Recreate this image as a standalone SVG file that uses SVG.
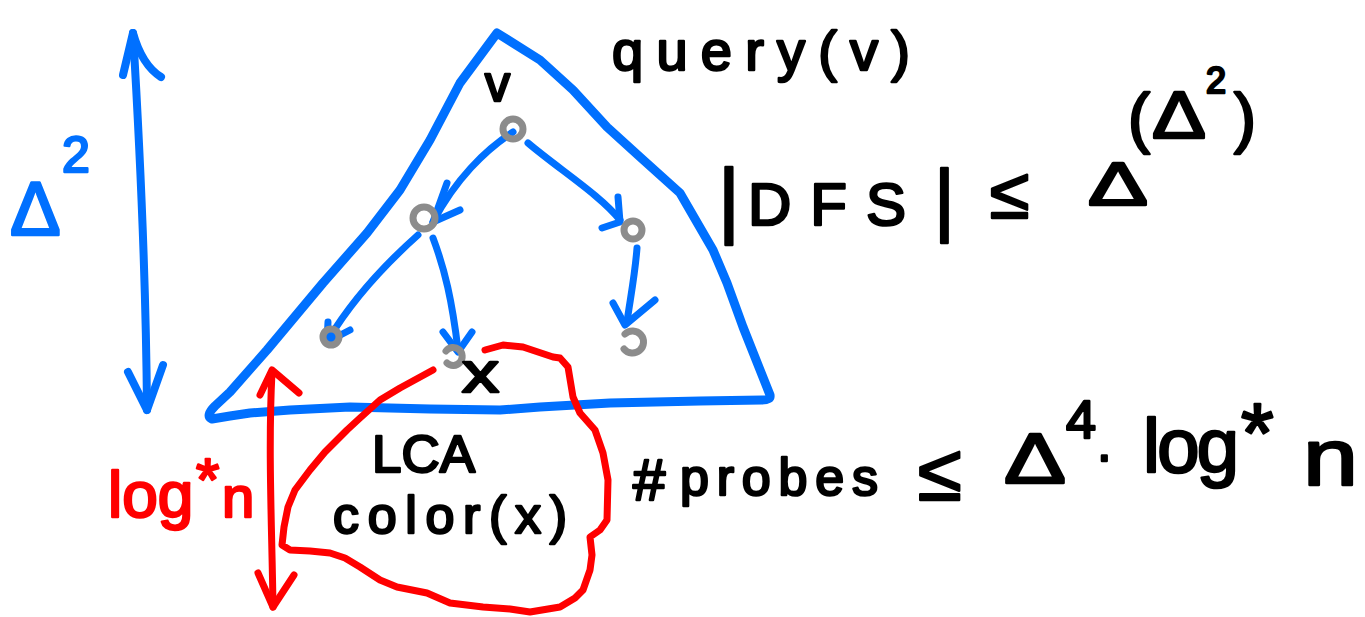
<svg xmlns="http://www.w3.org/2000/svg" width="1365" height="617" viewBox="0 0 1365 617">
<style>
.b{fill:none;stroke:#0070ff;stroke-width:8;stroke-linecap:round;stroke-linejoin:round}
.e{fill:none;stroke:#0070ff;stroke-width:7;stroke-linecap:round;stroke-linejoin:round}
.r{fill:none;stroke:#ff0000;stroke-width:7;stroke-linecap:round;stroke-linejoin:round}
.g{fill:none;stroke:#8c8c8c;stroke-width:7;stroke-linecap:round}
.t{font-family:"Liberation Sans",Arial,sans-serif;fill:#000;stroke:#000;stroke-width:2.5;stroke-linejoin:round}
.tr{font-family:"Liberation Sans",Arial,sans-serif;fill:#ff0000;stroke:#ff0000;stroke-width:2.5;stroke-linejoin:round}
.tb{font-family:"Liberation Sans",Arial,sans-serif;fill:#0070ff;stroke:#0070ff;stroke-width:2.5;stroke-linejoin:round}
</style>
<rect width="1365" height="617" fill="#fff"/>
<g id="triangle">
<path class="b" style="stroke-width:9" d="M497,33 L540,60 L573,90 L607,127 L640,157 L680,193 L713,250 L727,283 L743,327 L770,395 Q771,400 762,400 L700,401 L610,403 L540,407 L500,410 L430,409 L350,407 L290,410 L250,413 L230,416 L212,419 Q205,416 215,406 L230,392 L267,350 L323,283 L367,233 L400,190 L430,140 L460,83 Z"/>
</g>
<g id="height-arrow">
<path class="b" d="M133,33 C140,150 146,280 147,410"/>
<path class="b" d="M123,75 L133,33 Q142,65 161,77"/>
<path class="b" d="M128,372 L147,410 L163,365"/>
<text class="tb" x="10" y="235" font-size="76">Δ</text>
<text class="tb" x="62" y="172" font-size="50">2</text>
</g>
<g id="connectors">
<path class="e" d="M513,132 C485,150 455,180 433,222"/>
<path class="e" d="M447,183 L433,222 L460,210"/>
<path class="e" d="M528,143 C560,170 600,195 620,220"/>
<path class="e" d="M618,197 L620,222 L602,228"/>
<path class="e" d="M418,235 C390,260 355,295 328,340"/>
<path class="e" d="M328,322 L327,342 L350,330"/>
<path class="e" d="M433,238 C445,270 452,300 458,350"/>
<path class="e" d="M443,332 L458,352 L472,332"/>
<path class="e" d="M637,248 C635,275 630,300 627,322"/>
<path class="e" d="M613,303 L625,325 L655,300"/>
</g>
<g id="node-v">
<circle class="g" cx="513" cy="129" r="10"/>
<text class="t" x="485" y="101" font-size="50">v</text>
</g>
<g id="node-left">
<circle class="g" cx="424" cy="218" r="11"/>
</g>
<g id="node-right">
<circle class="g" cx="633" cy="230" r="9"/>
</g>
<g id="node-leftleaf">
<circle class="g" cx="331" cy="337" r="8"/>
</g>
<g id="node-x">
<path class="g" d="M446,351 A9,9 0 1 1 447,363"/>
<text class="t" x="462" y="392" font-size="58" textLength="37" lengthAdjust="spacingAndGlyphs">x</text>
</g>
<g id="node-rightleaf">
<path class="g" d="M625,334 A11,11 0 1 1 624,349"/>
</g>
<g id="lca-region">
<path class="r" d="M433,370 L400,388 L380,400 L360,418 L347,430 L325,452 L310,470 L295,490 L288,507 L284,527 L282,545 L290,550 L310,551 L330,553 L345,558 L360,567 L380,580 L397,587 L427,593 L450,603 L483,607 L510,609 L530,612 L560,607 L575,598 L583,590 L590,570 L592,555 L590,537 L600,530 L607,520 L608,480 L603,453 L595,430 L580,413 L573,397 L568,367 L560,358 L553,357 L523,347 L503,345 L485,350"/>
<text class="t" x="372" y="472" font-size="52" textLength="103" lengthAdjust="spacingAndGlyphs">LCA</text>
<text class="t" x="333" y="533" font-size="52" textLength="234" lengthAdjust="spacing">color(x)</text>
</g>
<g id="logn-arrow">
<path class="r" d="M272,372 C268,450 272,530 273,607"/>
<path class="r" d="M260,395 L272,370 L299,393"/>
<path class="r" d="M258,573 L273,607 L294,575"/>
<text class="tr" x="108" y="517" font-size="64">log</text>
<text class="tr" x="196" y="500" font-size="60">*</text>
<text class="tr" x="222" y="517" font-size="58">n</text>
</g>
<g id="query-label">
<text class="t" x="612" y="70" font-size="56" textLength="298" lengthAdjust="spacing">query(v)</text>
</g>
<g id="dfs-label">
<text class="t" x="718" y="228" font-size="84">|</text>
<text class="t" x="748" y="225" font-size="60" textLength="158" lengthAdjust="spacing">DFS</text>
<text class="t" x="934" y="226" font-size="80">|</text>
<text class="t" x="990" y="218" font-size="72">≤</text>
<text class="t" x="1088" y="205" font-size="62" textLength="60" lengthAdjust="spacingAndGlyphs">Δ</text>
<text class="t" x="1128" y="140" font-size="66">(</text>
<text class="t" x="1152" y="138" font-size="66" textLength="54" lengthAdjust="spacingAndGlyphs">Δ</text>
<text class="t" x="1206" y="93" font-size="36">2</text>
<text class="t" x="1234" y="140" font-size="66">)</text>
</g>
<g id="probes-label">
<text class="t" x="633" y="500" font-size="58">#</text>
<text class="t" x="680" y="495" font-size="52" textLength="198" lengthAdjust="spacing">probes</text>
<text class="t" x="918" y="500" font-size="80">≤</text>
<text class="t" x="1004" y="483" font-size="70" textLength="62" lengthAdjust="spacingAndGlyphs">Δ</text>
<text class="t" x="1066" y="438" font-size="54">4</text>
<text class="t" x="1096" y="472" font-size="50">·</text>
<text class="t" x="1143" y="472" font-size="76" textLength="96" lengthAdjust="spacing">log</text>
<text class="t" x="1241" y="462" font-size="84">*</text>
<text class="t" x="1303" y="485" font-size="80" textLength="55" lengthAdjust="spacingAndGlyphs">n</text>
</g>
</svg>
